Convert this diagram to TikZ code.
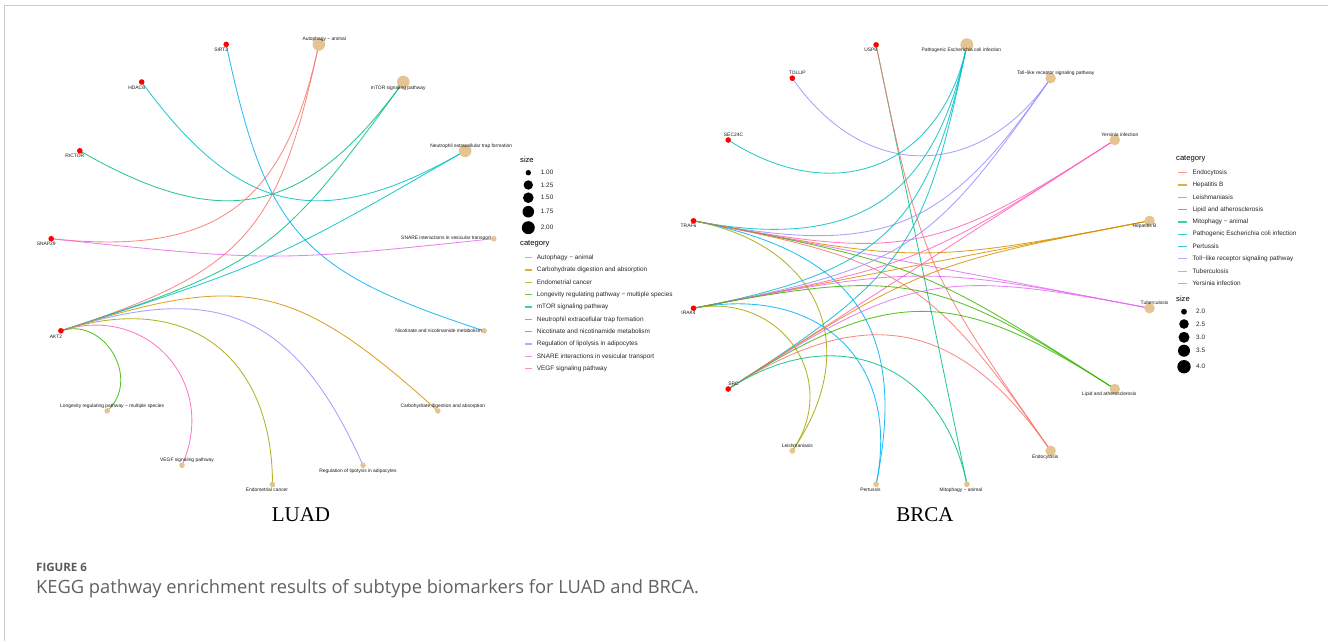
\documentclass[tikz,border=0pt]{standalone}
\usepackage{fontspec}
\newfontfamily\lsans{Liberation Sans}
\newfontfamily\lserif{Liberation Serif}
\newfontfamily\osans{Open Sans}
\usetikzlibrary{calc}
\pgfdeclarelayer{edges}
\pgfsetlayers{edges,main}
\definecolor{c1}{HTML}{F8766D}
\definecolor{c2}{HTML}{D89000}
\definecolor{c3}{HTML}{A3A500}
\definecolor{c4}{HTML}{39B600}
\definecolor{c5}{HTML}{00BF7D}
\definecolor{c6}{HTML}{00BFC4}
\definecolor{c7}{HTML}{00B0F6}
\definecolor{c8}{HTML}{9590FF}
\definecolor{c9}{HTML}{E76BF3}
\definecolor{c10}{HTML}{FF62BC}
\definecolor{pathtan}{HTML}{E5C494}
\definecolor{framegrey}{HTML}{CCCCCC}
\newcommand\arcedge[4]{%
  \path let \p1=($(#3.center)-(#2.center)$) in
    \pgfextra{\pgfmathsetmacro\arck{1-0.5*veclen((\x1)/\Rx,(\y1)/\Ry)}\global\let\arck\arck};
  \begin{pgfonlayer}{edges}
    \draw[arcline,#4] (#2.center) .. controls ($(#1)!\arck!(#2.center)$) and ($(#1)!\arck!(#3.center)$) .. (#3.center);
  \end{pgfonlayer}}
\begin{document}
\begin{tikzpicture}[x=1pt,y=-1pt,
  arcline/.style={line width=0.85pt, draw opacity=0.85},
  gene/.style={circle, fill=red, inner sep=0pt, minimum size=5.6pt},
  pw/.style={circle, fill=pathtan, inner sep=0pt, minimum size=#1},
  lab/.style={font=\lsans\fontsize{4.9}{5.8}\selectfont, inner sep=0pt, text=black!90},
  legtitle/.style={font=\lsans\fontsize{7.6}{8.5}\selectfont, inner sep=0pt, anchor=west},
  legtext/.style={font=\lsans\fontsize{6.4}{7.5}\selectfont, inner sep=0pt, anchor=west, text=black!85},
  keyline/.style={rectangle, inner sep=0pt, minimum height=1.2pt, minimum width=#1, fill opacity=0.75},
  legdot/.style={circle, fill=black, inner sep=0pt, minimum size=#1},
]
\useasboundingbox (0,0) rectangle (1328,641);
\draw[framegrey, line width=1pt] (4.3,641) -- (4.3,5) -- (1328,5);

% ---------------- LUAD ----------------
\coordinate (lc) at (272.5,262);
\node[pw=5.6pt] (endo) at (272.5,484.5) {};
\node[pw=5.6pt] (regl) at (363.0,465.3) {};
\node[pw=5.6pt] (carb) at (437.8,410.9) {};
\node[pw=5.6pt] (nico) at (484.1,330.8) {};
\node[pw=5.6pt] (snare) at (493.8,238.7) {};
\node[pw=12.6pt] (neut) at (465.2,150.8) {};
\node[pw=12.6pt] (mtor) at (403.3,82.0) {};
\node[pw=12.6pt] (auto) at (318.8,44.4) {};
\node[gene] (sirt2) at (226.2,44.4) {};
\node[gene] (hdac6) at (141.7,82.0) {};
\node[gene] (rictor) at (79.8,150.8) {};
\node[gene] (snap29) at (51.2,238.7) {};
\node[gene] (akt2) at (60.9,330.8) {};
\node[pw=5.6pt] (longv) at (107.2,410.9) {};
\node[pw=5.6pt] (vegf) at (182.0,465.3) {};

\node[lab] (t-sirt2) at ([shift={(-5,5.5)}]sirt2.center) {SIRT2};
\node[lab] (t-hdac6) at ([shift={(-5,5.5)}]hdac6.center) {HDAC6};
\node[lab] (t-rictor) at ([shift={(-5,5.5)}]rictor.center) {RICTOR};
\node[lab] (t-snap29) at ([shift={(-5,5.5)}]snap29.center) {SNAP29};
\node[lab] (t-akt2) at ([shift={(-5,5.5)}]akt2.center) {AKT2};
\node[lab] (t-auto) at ([shift={(5.5,-5)}]auto.center) {Autophagy − animal};
\node[lab] (t-mtor) at ([shift={(-5,5.8)}]mtor.center) {mTOR signaling pathway};
\node[lab] (t-neut) at ([shift={(6,-5)}]neut.center) {Neutrophil extracellular trap formation};
\node[lab,anchor=east] (t-snare) at ([shift={(-2.5,0)}]snare.center) {SNARE interactions in vesicular transport};
\node[lab,anchor=east] (t-nico) at ([shift={(-2,0)}]nico.center) {Nicotinate and nicotinamide metabolism};
\node[lab] (t-carb) at ([shift={(5,-5)}]carb.center) {Carbohydrate digestion and absorption};
\node[lab] (t-regl) at ([shift={(-5,6)}]regl.center) {Regulation of lipolysis in adipocytes};
\node[lab] (t-endo) at ([shift={(-5.5,5.5)}]endo.center) {Endometrial cancer};
\node[lab] (t-vegf) at ([shift={(5,-5)}]vegf.center) {VEGF signaling pathway};
\node[lab] (t-longv) at ([shift={(5,-5)}]longv.center) {Longevity regulating pathway − multiple species};

\def\Rx{222.5}\def\Ry{222.5}
\arcedge{lc}{sirt2}{nico}{c7}
\arcedge{lc}{hdac6}{neut}{c6}
\arcedge{lc}{rictor}{mtor}{c5}
\arcedge{lc}{snap29}{auto}{c1}
\arcedge{lc}{snap29}{snare}{c9}
\arcedge{lc}{akt2}{auto}{c1}
\arcedge{lc}{akt2}{mtor}{c5}
\arcedge{lc}{akt2}{neut}{c6}
\arcedge{lc}{akt2}{carb}{c2}
\arcedge{lc}{akt2}{regl}{c8}
\arcedge{lc}{akt2}{endo}{c3}
\arcedge{lc}{akt2}{vegf}{c10}
\arcedge{lc}{akt2}{longv}{c4}

% LUAD legend
\node[legtitle] (l-size) at (520,160) {size};
\foreach \v/\yy/\dd [count=\i] in {1.00/172.7/5.4, 1.25/185/9.4, 1.50/197.7/10.6, 1.75/211.7/11.6, 2.00/227.7/13}{
  \node[legdot=\dd pt] (lsd\i) at (528.3,\yy) {};
  \node[legtext] (lsv\i) at (540.7,\yy) {\v};
}
\node[legtitle] (l-cat) at (520,244.3) {category};
\foreach \t [count=\i] in {Autophagy − animal, Carbohydrate digestion and absorption, Endometrial cancer, Longevity regulating pathway − multiple species, mTOR signaling pathway, Neutrophil extracellular trap formation, Nicotinate and nicotinamide metabolism, Regulation of lipolysis in adipocytes, SNARE interactions in vesicular transport, VEGF signaling pathway}{
  \node[keyline=7pt, fill=c\i] (lk\i) at (528.4,{257.7+12.33*(\i-1)}) {};
  \node[legtext] (lt\i) at (536.7,{257.7+12.33*(\i-1)}) {\t};
}

% ---------------- BRCA ----------------
\coordinate (bc) at (921.5,264.5);
\node[pw=10.5pt] (hepb) at (1149.5,220.8) {};
\node[pw=10.5pt] (yers) at (1114.8,140.0) {};
\node[pw=10.5pt] (toll) at (1050.7,78.2) {};
\node[pw=13pt] (patho) at (966.9,44.8) {};
\node[gene] (usp8) at (876.1,44.8) {};
\node[gene] (tollip) at (792.3,78.2) {};
\node[gene] (sec24c) at (728.2,140.0) {};
\node[gene] (traf6) at (693.5,220.8) {};
\node[gene] (irak4) at (693.5,308.2) {};
\node[gene] (src) at (728.2,389.0) {};
\node[pw=5.8pt] (leish) at (792.3,450.8) {};
\node[pw=5.8pt] (pert) at (876.1,484.2) {};
\node[pw=5.8pt] (mito) at (966.9,484.2) {};
\node[pw=10.5pt] (endoc) at (1050.7,450.8) {};
\node[pw=10.5pt] (lipid) at (1114.8,389.0) {};
\node[pw=10.5pt] (tuber) at (1149.5,308.2) {};

\node[lab] (t-usp8) at ([shift={(-5.3,5.3)}]usp8.center) {USP8};
\node[lab] (t-tollip) at ([shift={(5,-5.5)}]tollip.center) {TOLLIP};
\node[lab] (t-sec24c) at ([shift={(5.3,-5.3)}]sec24c.center) {SEC24C};
\node[lab] (t-traf6) at ([shift={(-5,5)}]traf6.center) {TRAF6};
\node[lab] (t-irak4) at ([shift={(-5,5)}]irak4.center) {IRAK4};
\node[lab] (t-src) at ([shift={(5.3,-5)}]src.center) {SRC};
\node[lab] (t-patho) at ([shift={(-5.5,5.6)}]patho.center) {Pathogenic Escherichia coli infection};
\node[lab] (t-toll) at ([shift={(5,-5.4)}]toll.center) {Toll−like receptor signaling pathway};
\node[lab] (t-yers) at ([shift={(5,-5)}]yers.center) {Yersinia infection};
\node[lab] (t-hepb) at ([shift={(-5,5.3)}]hepb.center) {Hepatitis B};
\node[lab] (t-tuber) at ([shift={(5,-5)}]tuber.center) {Tuberculosis};
\node[lab] (t-lipid) at ([shift={(-5.5,5.7)}]lipid.center) {Lipid and atherosclerosis};
\node[lab] (t-endoc) at ([shift={(-5.5,6)}]endoc.center) {Endocytosis};
\node[lab] (t-mito) at ([shift={(-6,6)}]mito.center) {Mitophagy − animal};
\node[lab] (t-pert) at ([shift={(-5.6,5.7)}]pert.center) {Pertussis};
\node[lab] (t-leish) at ([shift={(5,-4.7)}]leish.center) {Leishmaniasis};

\def\Rx{232.5}\def\Ry{224}
\arcedge{bc}{usp8}{mito}{c5}
\arcedge{bc}{usp8}{endoc}{c1}
\arcedge{bc}{tollip}{toll}{c8}
\arcedge{bc}{sec24c}{patho}{c6}
\arcedge{bc}{traf6}{patho}{c6}
\arcedge{bc}{traf6}{toll}{c8}
\arcedge{bc}{traf6}{yers}{c10}
\arcedge{bc}{traf6}{hepb}{c2}
\arcedge{bc}{traf6}{tuber}{c9}
\arcedge{bc}{traf6}{lipid}{c4}
\arcedge{bc}{traf6}{endoc}{c1}
\arcedge{bc}{traf6}{pert}{c7}
\arcedge{bc}{traf6}{leish}{c3}
\arcedge{bc}{irak4}{patho}{c6}
\arcedge{bc}{irak4}{toll}{c8}
\arcedge{bc}{irak4}{yers}{c10}
\arcedge{bc}{irak4}{hepb}{c2}
\arcedge{bc}{irak4}{tuber}{c9}
\arcedge{bc}{irak4}{lipid}{c4}
\arcedge{bc}{irak4}{pert}{c7}
\arcedge{bc}{irak4}{leish}{c3}
\arcedge{bc}{src}{patho}{c6}
\arcedge{bc}{src}{yers}{c10}
\arcedge{bc}{src}{hepb}{c2}
\arcedge{bc}{src}{tuber}{c9}
\arcedge{bc}{src}{lipid}{c4}
\arcedge{bc}{src}{endoc}{c1}
\arcedge{bc}{src}{mito}{c5}

% BRCA legend
\node[legtitle] (b-cat) at (1176,159.3) {category};
\foreach \t [count=\i] in {Endocytosis, Hepatitis B, Leishmaniasis, Lipid and atherosclerosis, Mitophagy − animal, Pathogenic Escherichia coli infection, Pertussis, Toll−like receptor signaling pathway, Tuberculosis, Yersinia infection}{
  \node[keyline=9pt, fill=c\i] (bk\i) at (1182,{172.7+12.3*(\i-1)}) {};
  \node[legtext] (bt\i) at (1192.3,{172.7+12.3*(\i-1)}) {\t};
}
\node[legtitle] (b-size) at (1176,298.3) {size};
\foreach \v/\yy/\dd [count=\i] in {2.0/311.7/5.8, 2.5/324/9.6, 3.0/337.3/11, 3.5/350.7/12, 4.0/366.7/13.4}{
  \node[legdot=\dd pt] (bsd\i) at (1184,\yy) {};
  \node[legtext] (bsv\i) at (1196,\yy) {\v};
}

% ---------------- titles and caption ----------------
\node[font=\lserif\fontsize{21}{23}\selectfont, inner sep=0pt] (luad) at (301,515) {LUAD};
\node[font=\lserif\fontsize{21}{23}\selectfont, inner sep=0pt] (brca) at (925,515) {BRCA};
\node[anchor=west, inner sep=0pt, font=\osans\bfseries\fontsize{11.5}{13}\selectfont, text=black!65] (fig) at (36,567) {FIGURE 6};
\node[anchor=west, inner sep=0pt, font=\osans\fontsize{18.3}{21}\selectfont, text=black!62] (cap) at (36,589) {KEGG pathway enrichment results of subtype biomarkers for LUAD and BRCA.};
\end{tikzpicture}
\end{document}
